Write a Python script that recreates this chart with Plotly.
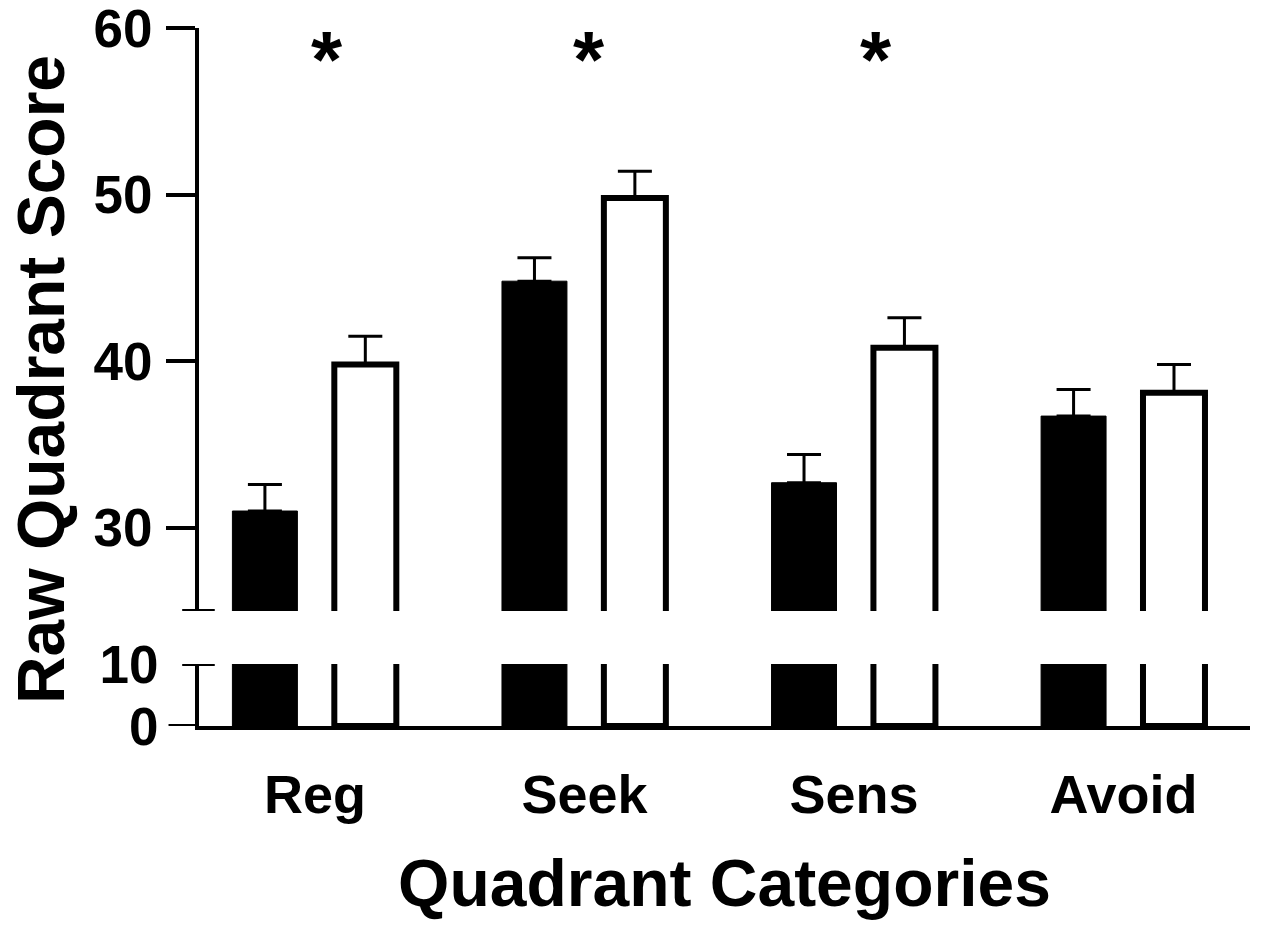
import plotly.graph_objects as go

categories = ["Reg", "Seek", "Sens", "Avoid"]
group1_mean = [31.0, 44.8, 32.7, 36.7]   # filled bars
group1_sem = [1.6, 1.4, 1.7, 1.6]
group2_mean = [39.8, 49.8, 40.8, 38.1]   # open bars
group2_sem = [1.7, 1.6, 1.8, 1.7]
significant = ["Reg", "Seek", "Sens"]
star_shift = {"Reg": 0.045, "Seek": 0.015, "Sens": 0.08}

upper_ticks = [30, 40, 50, 60]
lower_ticks = [0, 10]

FONT = "Liberation Sans, Arial, Helvetica, sans-serif"

fig = go.Figure()

zeros = [0] * len(categories)
for yax, with_err in (("y", True), ("y2", False)):
    fig.add_trace(go.Bar(
        x=categories, y=group1_mean, yaxis=yax, xaxis="x",
        width=0.241, offset=-0.306,
        marker=dict(color="black", line=dict(color="black", width=1)),
        error_y=dict(type="data", symmetric=False, array=group1_sem, arrayminus=zeros,
                     color="black", thickness=3, width=17, visible=with_err),
        showlegend=False, cliponaxis=True,
    ))
    fig.add_trace(go.Bar(
        x=categories, y=group2_mean, yaxis=yax, xaxis="x",
        width=0.230, offset=0.072,
        marker=dict(color="white", line=dict(color="black", width=6)),
        error_y=dict(type="data", symmetric=False, array=group2_sem, arrayminus=zeros,
                     color="black", thickness=3, width=17, visible=with_err),
        showlegend=False, cliponaxis=True,
    ))

tickfont = dict(family=FONT, size=53, color="black", weight="bold")

fig.update_layout(
    width=1264, height=927,
    margin=dict(l=191, r=22, t=20, b=209, autoexpand=False),
    paper_bgcolor="white", plot_bgcolor="white",
    barmode="overlay",
    xaxis=dict(
        anchor="y2", type="category", range=[-0.430, 3.469], automargin=False,
        showline=True, linecolor="black", linewidth=4,
        ticks="", showgrid=False, zeroline=False,
        tickfont=dict(family=FONT, size=54, color="black", weight="bold"),
        ticklabelstandoff=18,
        title=dict(text="Quadrant Categories", standoff=38,
                   font=dict(family=FONT, size=66, color="black", weight="bold")),
    ),
    yaxis=dict(
        domain=[0.1648, 1.0], range=[25, 60], anchor="x", automargin=False,
        tickvals=upper_ticks, ticks="outside", ticklen=29, tickwidth=4, tickcolor="black",
        showline=True, linecolor="black", linewidth=4, ticklabeloverflow="allow",
        showgrid=False, zeroline=False, tickfont=tickfont, ticklabelstandoff=3,
    ),
    yaxis2=dict(
        domain=[0.0, 0.0888], range=[0, 10], anchor="x", automargin=False,
        tickvals=lower_ticks, ticks="", ticklabelstandoff=26, ticklabeloverflow="allow",
        showline=True, linecolor="black", linewidth=4,
        showgrid=False, zeroline=False, tickfont=tickfont,
    ),
)

# y-axis title spanning both segments
fig.add_annotation(
    text="Raw Quadrant Score", xref="paper", yref="paper",
    x=-0.151, y=0.496, textangle=-90, showarrow=False,
    xanchor="center", yanchor="middle",
    font=dict(family=FONT, size=66, color="black", weight="bold"),
)

# significance stars
for c in significant:
    fig.add_annotation(
        text="*", x=categories.index(c) + star_shift[c], y=58.1,
        xref="x", yref="y", showarrow=False, yanchor="middle",
        font=dict(family=FONT, size=80, color="black", weight="bold"),
    )

# axis break caps and the short tick at 0
for yref, yv in (("y", 25), ("y2", 10)):
    fig.add_shape(type="line", xref="paper", yref=yref,
                  x0=-0.016, x1=0.015, y0=yv, y1=yv,
                  line=dict(color="black", width=4))
fig.add_shape(type="line", xref="paper", yref="y2",
              x0=-0.029, x1=0.0, y0=0, y1=0,
              line=dict(color="black", width=4))

fig.write_html("out.html")
